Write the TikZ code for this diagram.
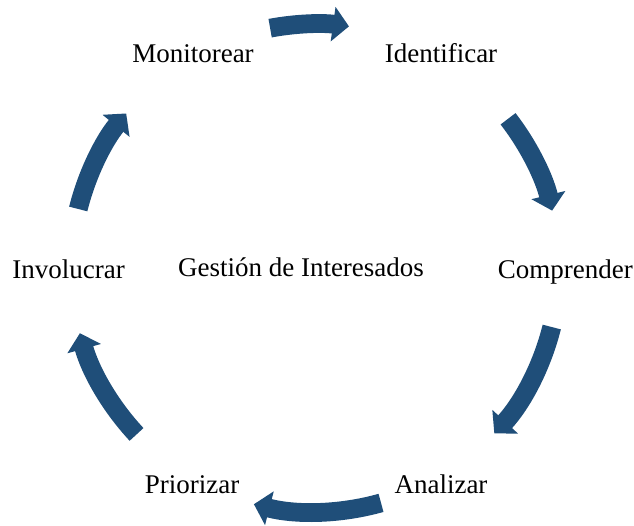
\documentclass[tikz,border=0pt]{standalone}
\usepackage{fontspec}
\setmainfont{Liberation Serif}
\usepackage{tikz}
\usetikzlibrary{arrows.meta}
\definecolor{cicloazul}{RGB}{31,78,121}

\begin{document}
\begin{tikzpicture}[
  etapa/.style={font=\fontsize{19.2}{23}\selectfont, anchor=base, inner sep=0pt},
  flecha/.style={cicloazul, line width=0.47cm, -{Triangle[width=0.85cm, length=0.4cm]}}
]
\useasboundingbox (-7.875,-6.425) rectangle (7.975,6.7);

% Central label
\node[etapa] (gestion) at (-0.35,-0.2) {Gestión de Interesados};

% Stages of the cycle
\node[etapa] (monitorear) at (-3.05,5.15) {Monitorear};
\node[etapa] (identificar) at (3.15,5.15) {Identificar};
\node[etapa] (comprender) at (6.26,-0.25) {Comprender};
\node[etapa] (analizar) at (3.15,-5.63) {Analizar};
\node[etapa] (priorizar) at (-3.07,-5.63) {Priorizar};
\node[etapa] (involucrar) at (-6.16,-0.25) {Involucrar};

% Curved arrows between stages
\foreach \from/\to [count=\i] in {100.6/82, 37.7/13.6, -14/-42.7, -74.3/-104.5, -137/-164.5, 166/140.7} {
    \coordinate (inicio\i) at (\from:6.1);
    \draw[flecha] (inicio\i) arc[start angle=\from, end angle=\to, radius=6.1];
}
\end{tikzpicture}
\end{document}
